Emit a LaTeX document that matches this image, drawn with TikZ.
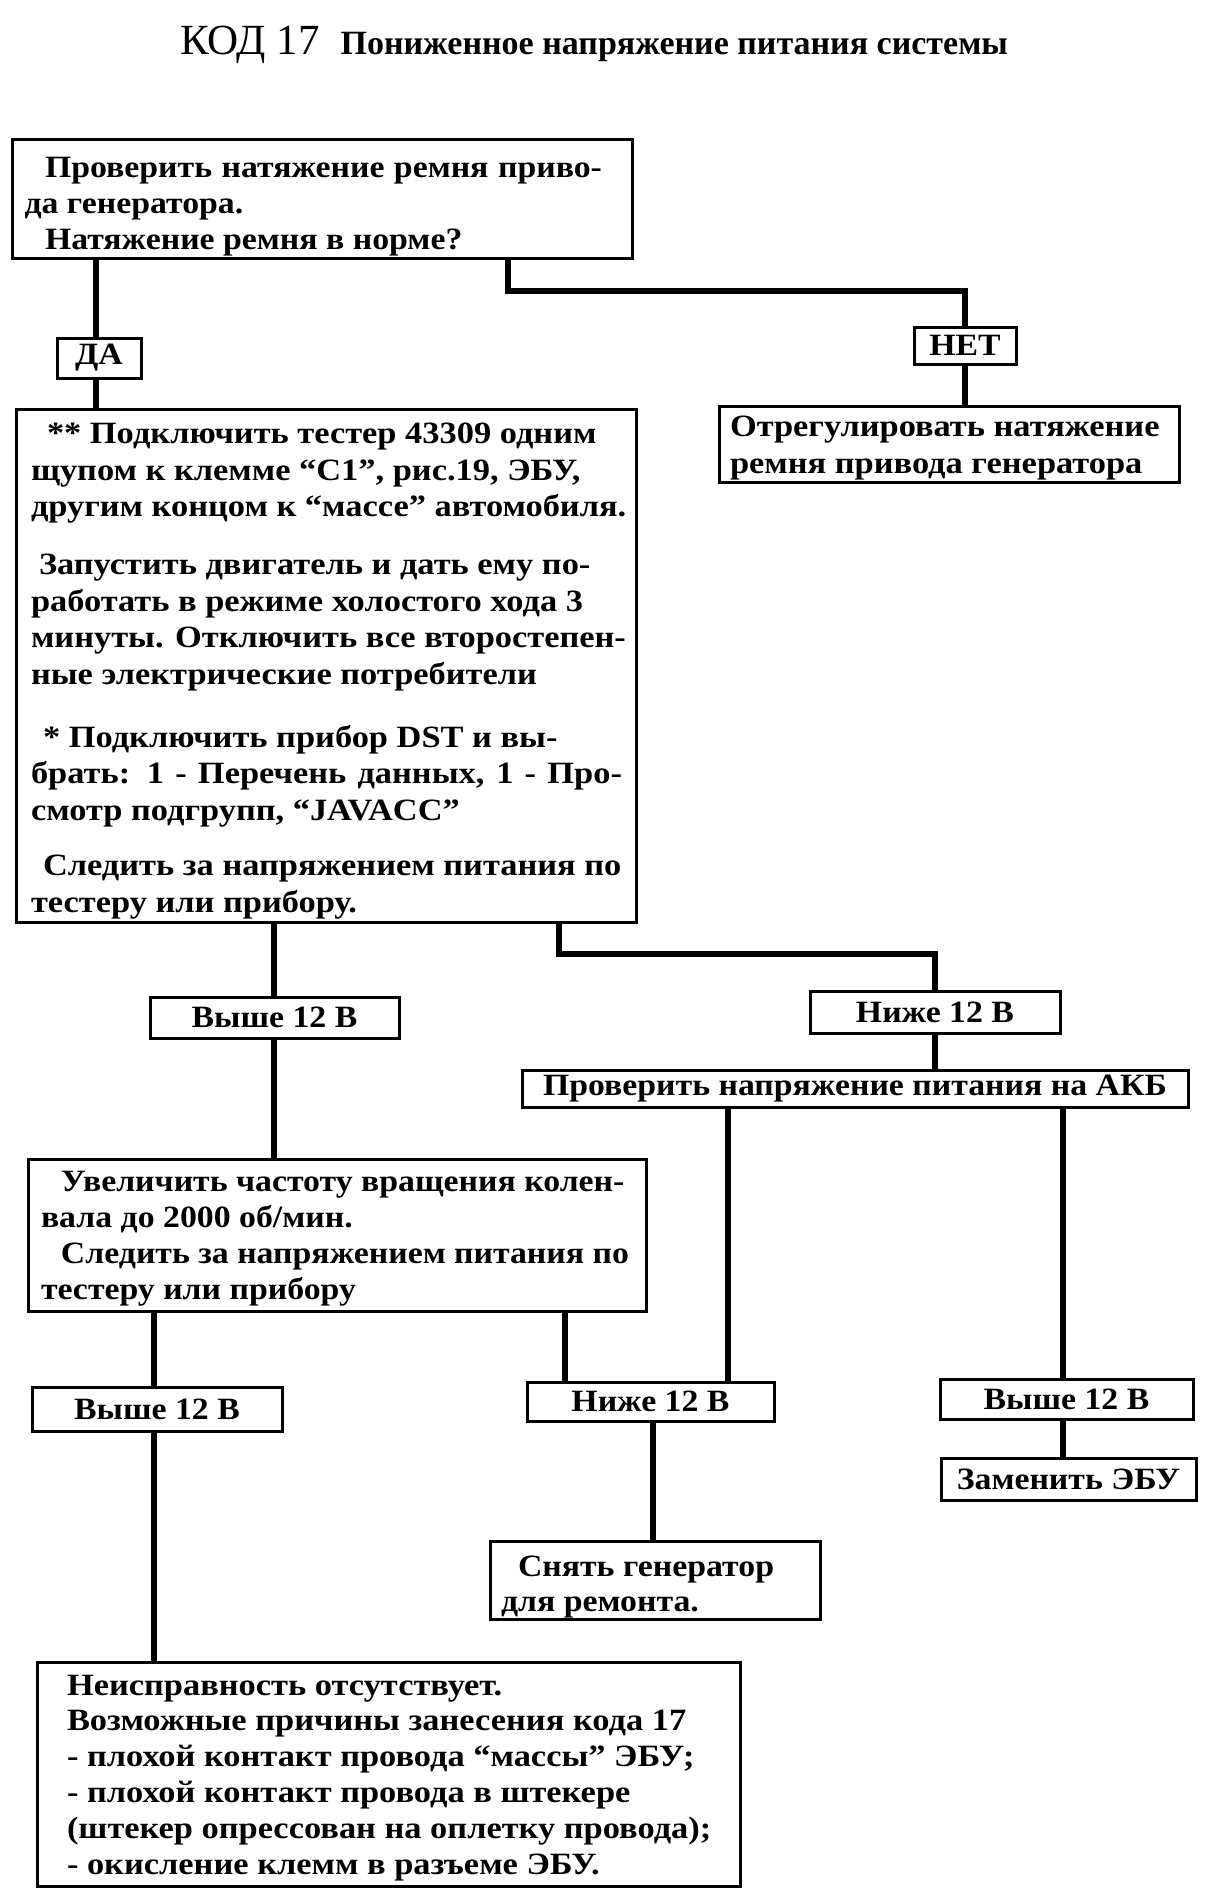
\documentclass[tikz,border=0pt]{standalone}
\usepackage{fontspec}
\setmainfont{Liberation Serif}
\newfontfamily\bodyfam{Liberation Serif}[FakeStretch=1.11]
\newfontfamily\narfam{Liberation Serif}[FakeStretch=1.09]
\newcommand\bodyfnt{\bodyfam\bfseries\fontsize{31}{36}\selectfont}
\newcommand\lblfnt{\narfam\bfseries\fontsize{31}{34}\selectfont}
\begin{document}
\begin{tikzpicture}[x=1pt,y=-1pt,
  box/.style={draw, line width=3pt, inner sep=0pt, outer sep=0pt, anchor=north west},
  lbl/.style={draw, line width=3pt, inner sep=0pt, outer sep=0pt, anchor=north west, font=\lblfnt},
  txt/.style={inner sep=0pt, outer sep=0pt, anchor=base west, align=left, font=\bodyfnt},
  wire/.style={line width=6pt}]
\fill[white] (0,0) rectangle (1211,1892);
\useasboundingbox (0,0) rectangle (1211,1892);

% title
\node[txt, font=\normalfont] (title) at (180,55) {{\fontsize{43}{50}\selectfont КОД 17}\hspace{21pt}{\bfseries\fontsize{34}{40}\selectfont Пониженное напряжение питания системы}};

% boxes (multi-line texts are placed by the baseline of their last line)
\node[box, minimum width=620, minimum height=118] (b1) at (12,140) {};
\node[txt, font=\narfam\bfseries\fontsize{31}{36}\selectfont] (t1) at (24.5,249) {\hspace*{20.5pt}\makebox[557pt][s]{Проверить натяжение ремня приво-}\\да генератора.\\\hspace*{20.5pt}Натяжение ремня в норме?};

\node[lbl, minimum width=84, minimum height=40] (da) at (57,338) {ДА};
\node[lbl, minimum width=102, minimum height=37] (net) at (914,327) {НЕТ};

\node[box, minimum width=460, minimum height=76] (b3) at (719,406) {};
\node[txt, font=\bodyfam\bfseries\fontsize{31}{37}\selectfont] (t3) at (730,473) {Отрегулировать натяжение\\ремня привода генератора};

\node[box, minimum width=620, minimum height=513] (b2) at (16,409) {};
\node[txt, font=\bodyfam\bfseries\fontsize{31}{36.7}\selectfont] (t2) at (31,912) {\hspace*{16pt}** Подключить тестер 43309 одним\\
щупом к клемме “C1”, рис.19, ЭБУ,\\
другим концом к “массе” автомобиля.\\[21pt]
\hspace*{8pt}Запустить двигатель и дать ему по-\\
работать в режиме холостого хода 3\\
минуты. Отключить все второстепен-\\
ные электрические потребители\\[26pt]
\hspace*{12pt}* Подключить прибор DST и вы-\\
\makebox[591pt][s]{брать: 1 - Перечень данных, 1 - Про-}\\
смотр подгрупп, “JAVACC”\\[18pt]
\hspace*{12pt}Следить за напряжением питания по\\
тестеру или прибору.};

\node[lbl, minimum width=249, minimum height=41] (v1) at (150,997) {Выше 12 В};
\node[lbl, minimum width=250, minimum height=42] (n1) at (810,991) {Ниже 12 В};
\node[lbl, minimum width=666, minimum height=37] (akb) at (522,1070) {Проверить напряжение питания на АКБ};

\node[box, minimum width=618, minimum height=152] (b4) at (28,1159) {};
\node[txt, font=\narfam\bfseries\fontsize{31}{36}\selectfont] (t4) at (41,1299) {\hspace*{20pt}Увеличить частоту вращения колен-\\вала до 2000 об/мин.\\\hspace*{20pt}Следить за напряжением питания по\\тестеру или прибору};

\node[lbl, minimum width=250, minimum height=44] (v2) at (32,1387) {Выше 12 В};
\node[lbl, minimum width=247, minimum height=39] (n2) at (527,1382) {Ниже 12 В};
\node[lbl, minimum width=253, minimum height=40] (v3) at (940,1379) {Выше 12 В};
\node[lbl, minimum width=255, minimum height=42] (zam) at (941,1458) {Заменить ЭБУ};

\node[box, minimum width=330, minimum height=78] (b5) at (490,1541) {};
\node[txt, font=\narfam\bfseries\fontsize{31}{35}\selectfont] (t5) at (501,1611) {\hspace*{17pt}Снять генератор\\для ремонта.};

\node[box, minimum width=703, minimum height=224] (b6) at (37,1662) {};
\node[txt, font=\bodyfam\bfseries\fontsize{31}{35.8}\selectfont] (t6) at (67,1874) {Неисправность отсутствует.\\
Возможные причины занесения кода 17\\
- плохой контакт провода “массы” ЭБУ;\\
- плохой контакт провода в штекере\\
(штекер опрессован на оплетку провода);\\
- окисление клемм в разъеме ЭБУ.};

% connector positions
\coordinate (xA) at (96,0);
\coordinate (kB) at (508,291);
\coordinate (xC) at (274,0);
\coordinate (kD) at (559,954);
\coordinate (xE) at (728,0);
\coordinate (xF) at (1063,0);
\coordinate (xG) at (154,0);
\coordinate (xH) at (565,0);
\coordinate (xI) at (653,0);

\draw[wire] (b1.south -| xA) -- (da.north -| xA);
\draw[wire] (da.south -| xA) -- (b2.north -| xA);
\draw[wire] (b1.south -| kB) -- (kB) -| (net.north);
\draw[wire] (net.south) -- (b3.north -| net.south);
\draw[wire] (b2.south -| xC) -- (v1.north -| xC);
\draw[wire] (v1.south -| xC) -- (b4.north -| xC);
\draw[wire] (b2.south -| kD) -- (kD) -| (n1.north);
\draw[wire] (n1.south) -- (akb.north -| n1.south);
\draw[wire] (akb.south -| xE) -- (n2.north -| xE);
\draw[wire] (akb.south -| xF) -- (v3.north -| xF);
\draw[wire] (v3.south -| xF) -- (zam.north -| xF);
\draw[wire] (b4.south -| xG) -- (v2.north -| xG);
\draw[wire] (v2.south -| xG) -- (b6.north -| xG);
\draw[wire] (b4.south -| xH) -- (n2.north -| xH);
\draw[wire] (n2.south -| xI) -- (b5.north -| xI);
\end{tikzpicture}
\end{document}
